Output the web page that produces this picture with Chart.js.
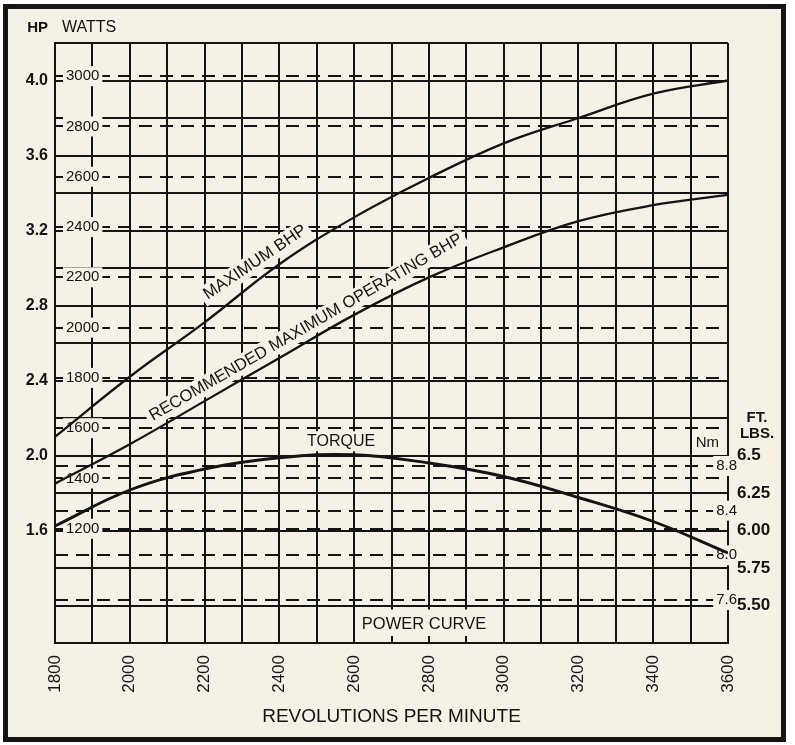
<!DOCTYPE html>
<html><head><meta charset="utf-8">
<script src="https://cdn.jsdelivr.net/npm/chart.js@4.4.1/dist/chart.umd.min.js"></script>
<style>
html,body{margin:0;padding:0;background:#fff;}
#wrap{position:relative;width:795px;height:745px;overflow:hidden;}
#frame{position:absolute;left:3px;top:4px;width:773px;height:728px;border:5px solid #151515;background:#f5f1e6;}
canvas{position:absolute;left:0;top:0;}
</style></head>
<body><div id="wrap"><div id="frame"></div><canvas id="c" width="795" height="745" style="width:795px;height:745px"></canvas></div>
<script>
// ---- data ----
const rpm        = [1800, 2000, 2200, 2400, 2600, 2800, 3000, 3200, 3400, 3600];
const maxBhp     = [2.10, 2.42, 2.71, 3.02, 3.27, 3.48, 3.665, 3.80, 3.93, 4.00];
const recBhp     = [1.85, 2.06, 2.29, 2.52, 2.75, 2.95, 3.11, 3.25, 3.335, 3.39];
const torqueFtLb = [6.03, 6.27, 6.41, 6.485, 6.505, 6.45, 6.36, 6.22, 6.06, 5.85];

const rpmLabels  = [1800, 2000, 2200, 2400, 2600, 2800, 3000, 3200, 3400, 3600];
const hpLabels   = [1.6, 2.0, 2.4, 2.8, 3.2, 3.6, 4.0];
const wattTicks  = [1200, 1400, 1600, 1800, 2000, 2200, 2400, 2600, 2800, 3000];
const nmTicks    = [7.6, 8.0, 8.4, 8.8];
const ftLbTicks  = [5.5, 5.75, 6.0, 6.25, 6.5];
const ftLbText   = ['5.50', '5.75', '6.00', '6.25', '6.5'];

const ink = '#141414', cream = '#f5f1e6';
const FAM = '"Liberation Sans", Arial, Helvetica, sans-serif';
const WATT_PER_HP = 745.7;

const notes = {
  id: 'notes',
  beforeDatasetsDraw(chart) {
    const {ctx, scales: {x, hp}} = chart;
    ctx.save();
    // POWER CURVE box
    const x0 = x.getPixelForValue(2600), x1 = x.getPixelForValue(3000);
    const yT = hp.getPixelForValue(1.2), yB = hp.getPixelForValue(1.0);
    ctx.fillStyle = cream;
    ctx.fillRect(x0 + 1.5, yT + 1.5, x1 - x0 - 3, yB - yT - 3);
    ctx.strokeStyle = ink; ctx.lineWidth = 2;
    [2700, 2800, 2900].forEach(v => {
      const px = Math.round(x.getPixelForValue(v));
      ctx.beginPath(); ctx.moveTo(px, yB); ctx.lineTo(px, yB - 7); ctx.stroke();
      ctx.beginPath(); ctx.moveTo(px, yT); ctx.lineTo(px, yT + 4); ctx.stroke();
    });
    const lab = (text, px, py, ang, font, bg) => {
      ctx.save(); ctx.translate(px, py); ctx.rotate(ang * Math.PI / 180);
      ctx.font = font; const w = ctx.measureText(text).width;
      if (bg) { ctx.fillStyle = cream; ctx.fillRect(-w / 2 - 4, -10, w + 8, 20); }
      ctx.fillStyle = ink; ctx.textAlign = 'center'; ctx.textBaseline = 'middle';
      ctx.fillText(text, 0, 0); ctx.restore();
    };
    lab('POWER CURVE', x.getPixelForValue(2787), hp.getPixelForValue(1.10), 0, '16.5px ' + FAM, false);
    lab('TORQUE', x.getPixelForValue(2565), hp.getPixelForValue(2.076), 0, '16px ' + FAM, true);
    lab('MAXIMUM BHP', x.getPixelForValue(2335), hp.getPixelForValue(3.03), -34, '16.8px ' + FAM, true);
    lab('RECOMMENDED MAXIMUM OPERATING BHP', x.getPixelForValue(2471), hp.getPixelForValue(2.683), -30, '16.6px ' + FAM, true);
    // Nm header
    ctx.font = '15px ' + FAM; ctx.textAlign = 'right'; ctx.textBaseline = 'middle';
    const nmY = hp.getPixelForValue(2.067);
    const nmW = ctx.measureText('Nm').width;
    ctx.fillStyle = cream; ctx.fillRect(chart.chartArea.right - 9 - nmW - 3, nmY - 8, nmW + 6, 16);
    ctx.fillStyle = ink; ctx.fillText('Nm', chart.chartArea.right - 9, nmY);
    ctx.restore();
  },
  afterDraw(chart) {
    const {ctx, chartArea: ca} = chart;
    ctx.save(); ctx.fillStyle = ink; ctx.textBaseline = 'middle';
    ctx.font = 'bold 15px ' + FAM; ctx.textAlign = 'right'; ctx.fillText('HP', ca.left - 7, 28);
    ctx.font = '16px ' + FAM; ctx.textAlign = 'left'; ctx.fillText('WATTS', ca.left + 7, 28);
    ctx.font = 'bold 15px ' + FAM; ctx.textAlign = 'center';
    ctx.fillText('FT.', ca.right + 29, 418);
    ctx.fillText('LBS.', ca.right + 29, 434);
    ctx.restore();
  }
};

const pts = arr => rpm.map((r, i) => ({x: r, y: arr[i]}));
const near = (list, v) => list.some(t => Math.abs(t - v) < 1e-6);

new Chart(document.getElementById('c'), {
  type: 'line',
  data: {
    datasets: [
      {label: 'Maximum BHP', data: pts(maxBhp), yAxisID: 'hp', borderColor: ink, borderWidth: 2.3, pointRadius: 0, tension: 0.4, fill: false},
      {label: 'Recommended maximum operating BHP', data: pts(recBhp), yAxisID: 'hp', borderColor: ink, borderWidth: 2.3, pointRadius: 0, tension: 0.4, fill: false},
      {label: 'Torque', data: pts(torqueFtLb), yAxisID: 'ftlb', borderColor: ink, borderWidth: 2.9, pointRadius: 0, tension: 0.4, fill: false}
    ]
  },
  options: {
    responsive: false, devicePixelRatio: 1, animation: false,
    layout: {padding: {top: 43, left: 0, right: 0, bottom: 0}},
    plugins: {legend: {display: false}, tooltip: {enabled: false}, title: {display: false}},
    scales: {
      x: {
        type: 'linear', position: 'bottom', min: 1800, max: 3600,
        ticks: {stepSize: 100, autoSkip: false, minRotation: 90, maxRotation: 90, padding: 12, color: ink,
          font: {size: 17, family: FAM}, callback: v => rpmLabels.includes(v) ? String(v) : ''},
        grid: {color: ink, lineWidth: 2, drawTicks: false},
        border: {display: true, color: ink, width: 2},
        title: {display: true, text: 'REVOLUTIONS PER MINUTE', color: ink, font: {size: 19, family: FAM}, padding: {top: 0, bottom: 17}},
        afterFit: s => { s.height = 102; }
      },
      hp: {
        type: 'linear', position: 'left', weight: 1, min: 1.0, max: 4.2,
        ticks: {stepSize: 0.2, padding: 7, color: ink, font: {size: 16, weight: 'bold', family: FAM},
          callback: v => near(hpLabels, v) ? v.toFixed(1) : ''},
        grid: {color: ink, lineWidth: 2, drawTicks: false},
        border: {display: true, color: ink, width: 2},
        afterFit: s => { s.width = 55; }
      },
      watts: {
        type: 'linear', position: 'left', weight: 0, min: 1.0 * WATT_PER_HP, max: 4.2 * WATT_PER_HP,
        afterBuildTicks: s => { s.ticks = wattTicks.map(v => ({value: v})); },
        ticks: {mirror: true, padding: 11, color: ink, font: {size: 15, family: FAM}, callback: v => String(v),
          showLabelBackdrop: true, backdropColor: cream, backdropPadding: {x: 3, y: 1}},
        grid: {color: ink, lineWidth: 2, drawTicks: false},
        border: {display: false, dash: [13, 8]},
        afterFit: s => { s.width = 0; }
      },
      nm: {
        type: 'linear', position: 'right', weight: 0, min: 7.215, max: 12.588,
        afterBuildTicks: s => { s.ticks = nmTicks.map(v => ({value: v})); },
        ticks: {mirror: true, padding: 9, color: ink, font: {size: 15, family: FAM}, callback: v => v.toFixed(1),
          showLabelBackdrop: true, backdropColor: cream, backdropPadding: {x: 3, y: 1}},
        grid: {color: ink, lineWidth: 2, drawTicks: false},
        border: {display: false, dash: [13, 8]},
        afterFit: s => { s.width = 0; }
      },
      ftlb: {
        type: 'linear', position: 'right', weight: 1, min: 5.25, max: 9.25,
        afterBuildTicks: s => { s.ticks = ftLbTicks.map(v => ({value: v})); },
        ticks: {padding: 9, color: ink, font: {size: 17, weight: 'bold', family: FAM},
          callback: v => { const i = ftLbTicks.findIndex(t => Math.abs(t - v) < 1e-6); return i >= 0 ? ftLbText[i] : ''; }},
        grid: {display: false, drawTicks: false},
        border: {display: false},
        afterFit: s => { s.width = 67; }
      }
    }
  },
  plugins: [notes]
});
</script>
</body></html>
